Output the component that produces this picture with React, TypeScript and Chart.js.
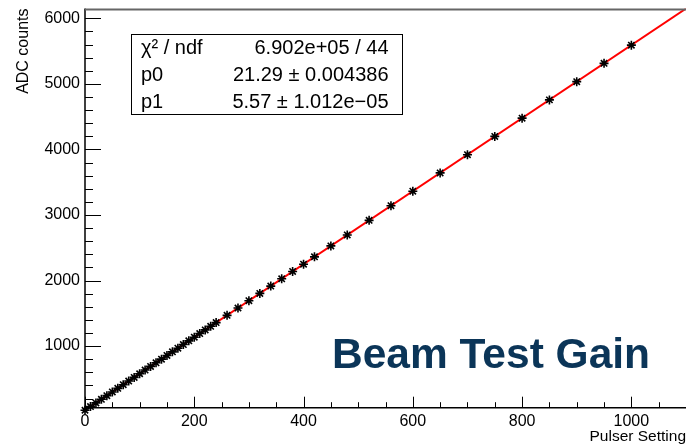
import React, { useEffect, useRef } from "react";
import { Chart, registerables } from "chart.js";

Chart.register(...registerables);

const FONT = '"Liberation Sans", Arial, Helvetica, sans-serif';

// ---- data ----
const pulserSettings = [
  0, 10, 20, 30, 40, 50, 60, 70, 80, 90, 100, 110, 120, 130, 140, 150, 160, 170, 180, 190, 200, 210, 220, 230, 240,
  260, 280, 300, 320, 340, 360, 380, 400, 420,
  450, 480, 520, 560, 600, 650, 700, 750, 800, 850, 900, 950, 1000,
];
const adcCounts = [
  21, 77, 133, 188, 244, 300, 355, 411, 467, 522, 578, 634, 690, 745, 801, 857, 912, 968, 1024, 1080, 1135, 1191, 1247, 1302, 1358,
  1469, 1581, 1692, 1804, 1915, 2027, 2138, 2249, 2361,
  2528, 2695, 2918, 3141, 3363, 3642, 3920, 4199, 4477, 4756, 5034, 5313, 5591,
];

// fit parameters (pol1) shown in the stats box
const fitP0 = 21.29;
const fitP1 = 5.57;

const xTickValues = [0, 200, 400, 600, 800, 1000];
const yTickValues = [1000, 2000, 3000, 4000, 5000, 6000];
const xRange = [0, 1100];
const yRange = [60, 6150];

const statsLabels = ["\u03C7\u00B2 / ndf", "p0", "p1"];
const statsValues = ["6.902e+05 / 44", "21.29 \u00B1 0.004386", "5.57 \u00B1 1.012e\u221205"];

const xTitle = "Pulser Setting";
const yTitle = "ADC counts";
const bigTitle = "Beam Test Gain";

const rootAxesPlugin = {
  id: "rootAxes",
  afterDatasetsDraw(chart: any) {
    const { ctx, chartArea: a, scales } = chart;
    const xs = scales.x;
    const ys = scales.y;
    ctx.save();
    ctx.strokeStyle = "#000";
    ctx.lineWidth = 1;
    ctx.beginPath();
    for (let v = 0; v <= ys.max; v += 200) {
      if (v < ys.min) continue;
      const y = Math.round(ys.getPixelForValue(v)) + 0.5;
      const len = yTickValues.includes(v) ? 16 : 8;
      ctx.moveTo(a.left, y);
      ctx.lineTo(a.left + len, y);
    }
    for (let v = 0; v <= xs.max; v += 50) {
      const x = Math.round(xs.getPixelForValue(v)) + 0.5;
      const len = xTickValues.includes(v) ? 11 : 5.5;
      ctx.moveTo(x, a.bottom);
      ctx.lineTo(x, a.bottom - len);
    }
    ctx.stroke();

    ctx.lineWidth = 1.5;
    ctx.beginPath();
    ctx.moveTo(a.left, a.top);
    ctx.lineTo(a.left, a.bottom);
    ctx.lineTo(a.right, a.bottom);
    ctx.stroke();
    ctx.strokeStyle = "#666";
    ctx.lineWidth = 2;
    ctx.beginPath();
    ctx.moveTo(a.left, a.top + 1);
    ctx.lineTo(a.right, a.top + 1);
    ctx.stroke();
    ctx.restore();
  },
  afterDraw(chart: any) {
    const { ctx } = chart;
    ctx.save();
    const bx = 131.5, by = 34.5, bw = 271, bh = 80;
    ctx.fillStyle = "#fff";
    ctx.fillRect(bx, by, bw, bh);
    ctx.strokeStyle = "#000";
    ctx.lineWidth = 1;
    ctx.strokeRect(bx, by, bw, bh);
    ctx.fillStyle = "#000";
    ctx.font = `20px ${FONT}`;
    ctx.textBaseline = "middle";
    const rowH = bh / statsLabels.length;
    statsLabels.forEach((lab, i) => {
      const cy = by + rowH * (i + 0.5) + 1;
      ctx.textAlign = "left";
      ctx.fillText(lab, 141, cy);
      ctx.textAlign = "right";
      ctx.fillText(statsValues[i], 388.5, cy);
    });
    ctx.font = `bold 42.5px ${FONT}`;
    ctx.fillStyle = "#0b3558";
    ctx.textAlign = "left";
    ctx.textBaseline = "alphabetic";
    ctx.fillText(bigTitle, 332, 367.5);
    ctx.restore();
  },
};

export default function App() {
  const ref = useRef<HTMLCanvasElement>(null);

  useEffect(() => {
    const canvas = ref.current;
    if (!canvas) return;
    const markerData = pulserSettings.map((x, i) => ({ x, y: adcCounts[i] }));
    const fitData = xRange.map((x) => ({ x, y: fitP0 + fitP1 * x }));

    const chart = new Chart(canvas, {
      type: "scatter",
      data: {
        datasets: [
          {
            label: "data",
            data: markerData,
            showLine: false,
            pointStyle: "star",
            pointRadius: 4.5,
            pointBorderColor: "#000",
            pointBackgroundColor: "#000",
            pointBorderWidth: 1.6,
            order: 0,
            clip: false as any,
          },
          {
            label: "fit",
            data: fitData,
            showLine: true,
            borderColor: "#ff0000",
            borderWidth: 2,
            pointRadius: 0,
            order: 1,
          },
        ],
      },
      options: {
        responsive: false,
        animation: false,
        layout: { autoPadding: false, padding: { top: 8.5, right: 0, bottom: 0, left: 0 } } as any,
        plugins: {
          legend: { display: false },
          tooltip: { enabled: false },
        },
        scales: {
          x: {
            type: "linear",
            position: "bottom",
            min: xRange[0],
            max: xRange[1],
            grid: { display: false, drawTicks: false },
            border: { display: false },
            afterBuildTicks: (s: any) => {
              s.ticks = xTickValues.map((v) => ({ value: v }));
            },
            afterFit: (s: any) => {
              s.height = 38.3;
              s.paddingLeft = 0;
              s.paddingRight = 0;
            },
            ticks: {
              autoSkip: false,
              maxRotation: 0,
              padding: 4,
              color: "#000",
              font: { family: FONT, size: 16 },
              callback: (v: any) => String(v),
            },
            title: {
              display: true,
              text: xTitle,
              align: "end",
              color: "#000",
              font: { family: FONT, size: 15.5 },
              padding: { top: 0, bottom: 0 },
            },
          },
          y: {
            type: "linear",
            min: yRange[0],
            max: yRange[1],
            grid: { display: false, drawTicks: false },
            border: { display: false },
            afterBuildTicks: (s: any) => {
              s.ticks = yTickValues.map((v) => ({ value: v }));
            },
            afterFit: (s: any) => {
              s.width = 85;
              s.paddingTop = 0;
              s.paddingBottom = 0;
            },
            ticks: {
              autoSkip: false,
              padding: 5,
              color: "#000",
              font: { family: FONT, size: 16 },
              callback: (v: any) => String(v),
            },
            title: {
              display: true,
              text: yTitle,
              align: "end",
              color: "#000",
              font: { family: FONT, size: 16 },
              padding: { top: 14.4, bottom: 0 },
            },
          },
        },
      },
      plugins: [rootAxesPlugin],
    });
    return () => chart.destroy();
  }, []);

  return (
    <div style={{ position: "absolute", left: 0, top: 0, width: 686, height: 446, background: "#fff" }}>
      <canvas ref={ref} width={686} height={446} style={{ display: "block" }} />
    </div>
  );
}
